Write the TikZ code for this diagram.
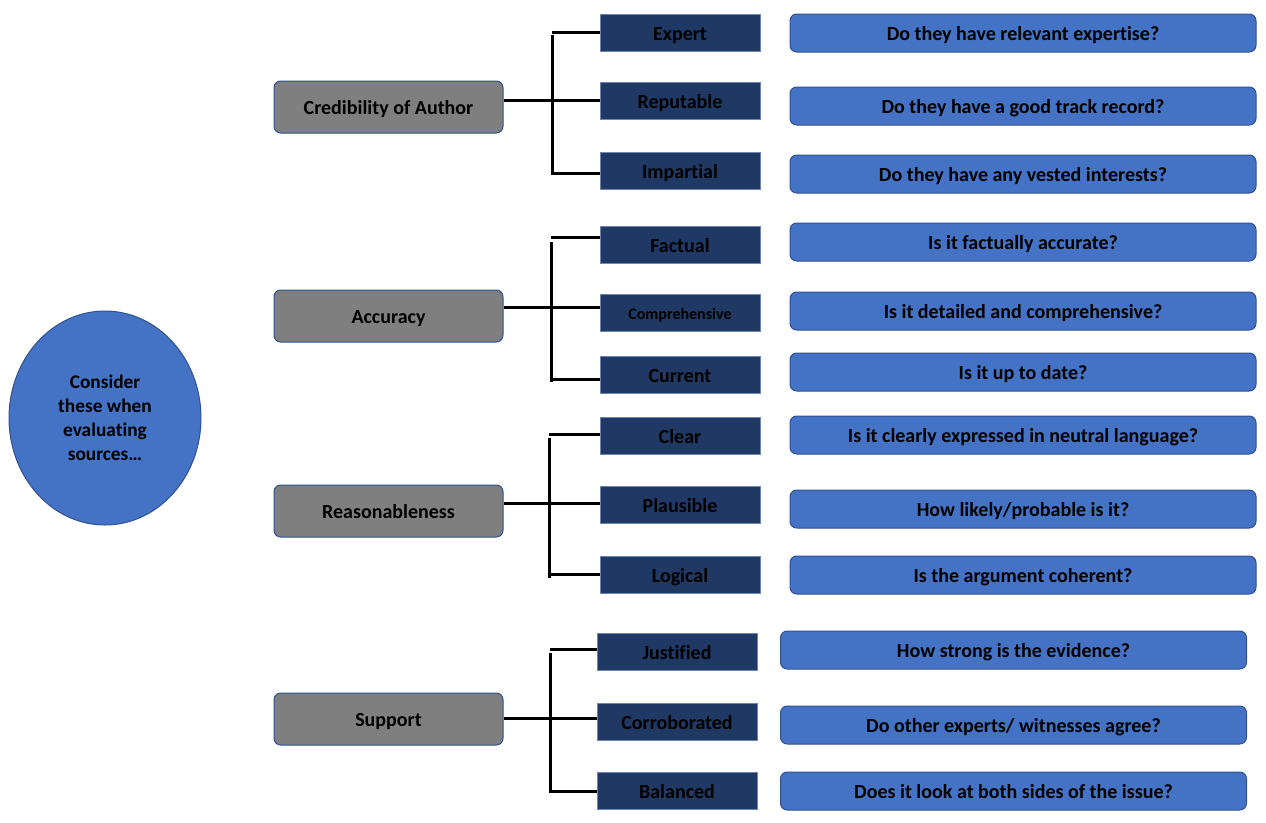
\documentclass[tikz,border=0pt]{standalone}
\usepackage{fontspec}
\setmainfont{Carlito}[Ligatures=NoCommon]
\usetikzlibrary{shapes.geometric}
\definecolor{midblue}{HTML}{4472C4}
\definecolor{edgeblue}{HTML}{2F528F}
\definecolor{navy}{HTML}{203864}
\definecolor{greybox}{HTML}{7F7F7F}
\tikzset{
  x=0.75pt, y=-0.75pt,
  every node/.style={font=\fontsize{15}{18}\selectfont\bfseries, text=black, inner sep=0pt},
  lbl/.style={text height=13.4pt, text depth=1.8pt},
  topic/.style={lbl, draw=edgeblue, line width=0.75pt, fill=greybox, rounded corners=5pt, minimum width=171.75pt, minimum height=39pt},
  crit/.style={lbl, draw=edgeblue!70!white, line width=0.75pt, fill=navy, minimum width=120pt, minimum height=28pt},
  quest/.style={lbl, draw=edgeblue, line width=0.75pt, fill=midblue, rounded corners=5pt, minimum width=349.5pt, minimum height=28.5pt},
  link/.style={line width=2.25pt, black},
}
\begin{document}
\begin{tikzpicture}
\useasboundingbox (0,0) rectangle (1266,822);
% central ellipse
\node[ellipse, draw=edgeblue, line width=0.75pt, fill=midblue, minimum width=144pt, minimum height=160.5pt, align=center, font=\fontsize{14.5}{18}\selectfont\bfseries] (core) at (105,418) {Consider\\these when\\evaluating\\sources…};

% topics
\node[topic] (cred) at (388.5,107) {Credibility of Author};
\node[topic] (acc) at (388.5,316) {Accuracy};
\node[topic] (rea) at (388.5,511) {Reasonableness};
\node[topic] (sup) at (388.5,719) {Support};

% criteria
\node[crit] (expert) at (680,33) {Expert};
\node[crit] (reput) at (680,101) {Reputable};
\node[crit] (impart) at (680,171) {Impartial};
\node[crit] (fact) at (680,245) {Factual};
\node[crit, font=\fontsize{12}{14}\selectfont\bfseries, text height=12pt, text depth=2.2pt] (compr) at (680,313) {Comprehensive};
\node[crit] (curr) at (680,375) {Current};
\node[crit] (clear) at (680,436) {Clear};
\node[crit] (plaus) at (680,505) {Plausible};
\node[crit] (logic) at (680,575) {Logical};
\node[crit] (just) at (677,652) {Justified};
\node[crit] (corr) at (677,722) {Corroborated};
\node[crit] (bal) at (677,791) {Balanced};

% questions
\node[quest] (q1) at (1023,33) {Do they have relevant expertise?};
\node[quest] (q2) at (1023,106) {Do they have a good track record?};
\node[quest] (q3) at (1023,174) {Do they have any vested interests?};
\node[quest] (q4) at (1023,242) {Is it factually accurate?};
\node[quest] (q5) at (1023,311) {Is it detailed and comprehensive?};
\node[quest] (q6) at (1023,372) {Is it up to date?};
\node[quest] (q7) at (1023,435) {Is it clearly expressed in neutral language?};
\node[quest] (q8) at (1023,509) {How likely/probable is it?};
\node[quest] (q9) at (1023,575) {Is the argument coherent?};
\node[quest] (q10) at (1013.5,650) {How strong is the evidence?};
\node[quest] (q11) at (1013.5,725) {Do other experts/ witnesses agree?};
\node[quest] (q12) at (1013.5,791) {Does it look at both sides of the issue?};

% connectors: Credibility
\coordinate (c1m) at (552,100);
\coordinate (c1t) at (552,32);
\coordinate (c1b) at (552,173);
\draw[link] (c1m -| cred.east) -- (c1m -| reput.west);
\draw[link] (552,35) -- (552,175);
\draw[link] (c1t) -- (c1t -| expert.west);
\draw[link] (c1b) -- (c1b -| impart.west);

% Accuracy
\coordinate (c2m) at (551,307);
\coordinate (c2t) at (551,237);
\coordinate (c2b) at (551,379);
\draw[link] (c2m -| acc.east) -- (c2m -| compr.west);
\draw[link] (551,242) -- (551,382);
\draw[link] (c2t) -- (c2t -| fact.west);
\draw[link] (c2b) -- (c2b -| curr.west);

% Reasonableness
\coordinate (c3m) at (549,503);
\coordinate (c3t) at (549,434);
\coordinate (c3b) at (549,574);
\draw[link] (c3m -| rea.east) -- (c3m -| plaus.west);
\draw[link] (549,438) -- (549,578);
\draw[link] (c3t) -- (c3t -| clear.west);
\draw[link] (c3b) -- (c3b -| logic.west);

% Support
\coordinate (c4m) at (550,718);
\coordinate (c4t) at (550,649);
\coordinate (c4b) at (550,791);
\draw[link] (c4m -| sup.east) -- (c4m -| corr.west);
\draw[link] (550,653) -- (550,793);
\draw[link] (c4t) -- (c4t -| just.west);
\draw[link] (c4b) -- (c4b -| bal.west);
\end{tikzpicture}
\end{document}
